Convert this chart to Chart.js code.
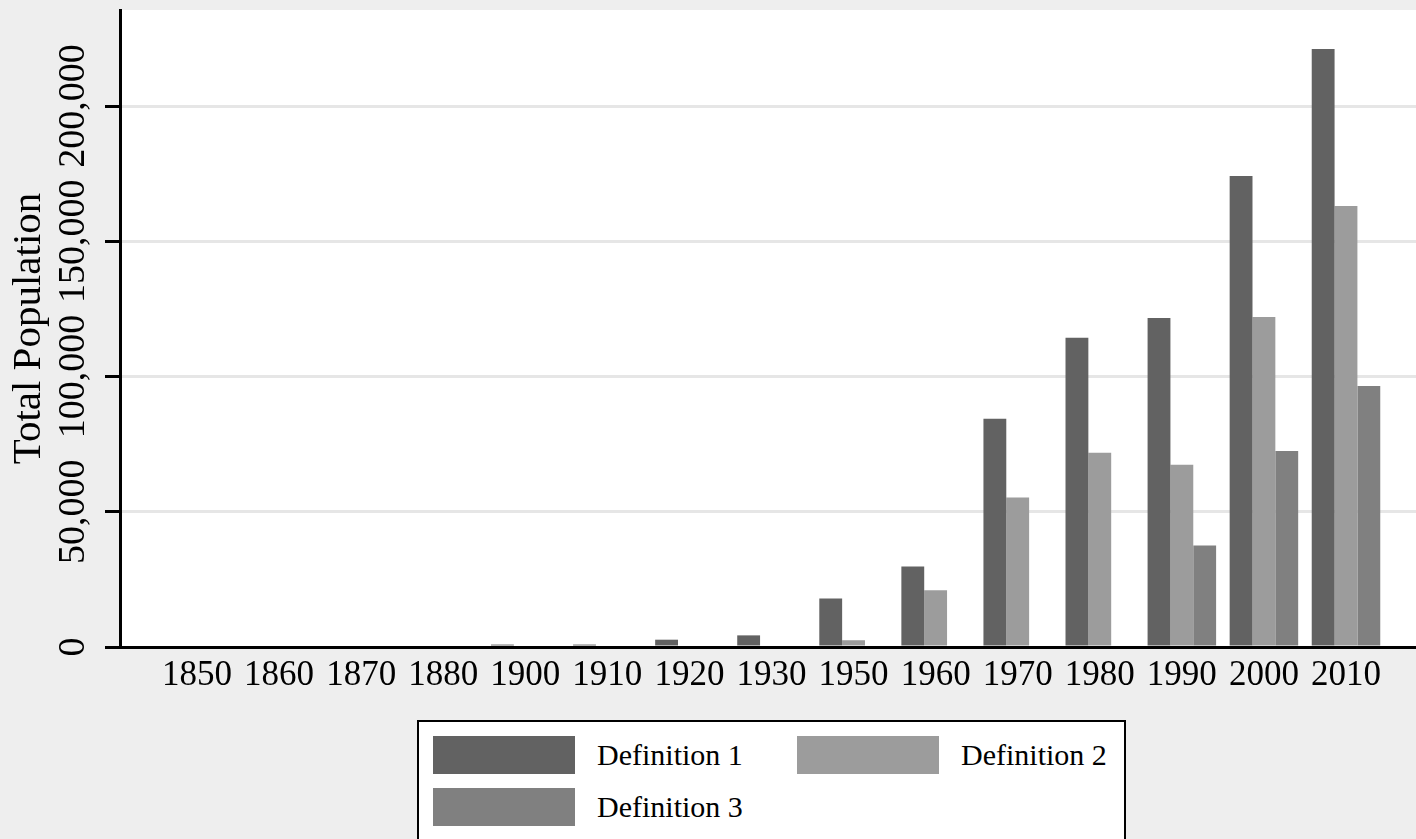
<!DOCTYPE html>
<html>
<head>
<meta charset="utf-8">
<script src="https://cdn.jsdelivr.net/npm/chart.js@4.4.1/dist/chart.umd.min.js"></script>
<style>
  body { margin: 0; background: #eeeeee; overflow: hidden; }
  #wrap { position: relative; width: 1416px; height: 839px; }
  #legendBox {
    position: absolute; left: 417px; top: 720px; width: 705px; height: 140px;
    border: 2px solid #000; background: #fff;
    font-family: "Liberation Serif", "Times New Roman", serif; font-size: 30px; color: #000;
  }
  .item { position: absolute; display: flex; align-items: center; height: 38px; }
  .swatch { width: 142px; height: 38px; margin-right: 22px; }
</style>
</head>
<body>
<div id="wrap">
  <canvas id="myChart" width="1416" height="839"></canvas>
  <div id="legendBox"></div>
</div>
<script>
/*------------------------------DATA--------------------------------------------*/

const years = ['1850', '1860', '1870', '1880', '1900', '1910', '1920', '1930',
               '1950', '1960', '1970', '1980', '1990', '2000', '2010'];

const definition1 = [0, 0, 0, 0, 900, 900, 2700, 4300, 17900, 29800, 84400, 114300, 121600, 174100, 221100];
const definition2 = [0, 0, 0, 0, 0, 0, 0, 0, 2500, 21000, 55300, 71800, 67400, 122000, 163000];
const definition3 = [0, 0, 0, 0, 0, 0, 0, 0, 0, 0, 0, 0, 37500, 72500, 96500];

const yTicks = [0, 50000, 100000, 150000, 200000];

const seriesNames = ['Definition 1', 'Definition 2', 'Definition 3'];
const seriesColors = ['#626262', '#9c9c9c', '#808080'];

/*------------------------------CHART--------------------------------------------*/

const serif = '"Liberation Serif", "Times New Roman", serif';

function toPoints(arr) {
    return arr.map((v, i) => ({ x: i, y: v }));
}

const data = {
    datasets: [definition1, definition2, definition3].map((arr, i) => ({
        label: seriesNames[i],
        data: toPoints(arr),
        backgroundColor: seriesColors[i],
        borderWidth: 0,
        categoryPercentage: 0.835,
        barPercentage: 1.0
    }))
};

// background + white plot area
const bgPlugin = {
    id: 'bg',
    beforeDraw(chart) {
        const ctx = chart.ctx;
        const a = chart.chartArea;
        ctx.save();
        ctx.fillStyle = '#eeeeee';
        ctx.fillRect(0, 0, chart.width, chart.height);
        ctx.fillStyle = '#ffffff';
        ctx.fillRect(a.left, a.top, a.right - a.left, a.bottom - a.top);
        ctx.restore();
    }
};

// rotated y tick labels, centred on their ticks
const yLabelPlugin = {
    id: 'yLabels',
    afterDraw(chart) {
        const ctx = chart.ctx;
        const scale = chart.scales.y;
        ctx.save();
        ctx.font = '38px ' + serif;
        ctx.fillStyle = '#000';
        ctx.textAlign = 'center';
        ctx.textBaseline = 'middle';
        scale.ticks.forEach(t => {
            ctx.save();
            ctx.translate(74, scale.getPixelForValue(t.value));
            ctx.rotate(-Math.PI / 2);
            ctx.fillText(t.value.toLocaleString('en-US'), 0, 0);
            ctx.restore();
        });
        ctx.restore();
    }
};

const config = {
    type: 'bar',
    data: data,
    plugins: [bgPlugin, yLabelPlugin],
    options: {
        responsive: false,
        animation: false,
        layout: { padding: { top: 10, right: 0, bottom: 0, left: 0 } },
        plugins: {
            legend: { display: false },
            tooltip: { enabled: false }
        },
        scales: {
            x: {
                type: 'linear',
                offset: false,
                min: -0.938,
                max: 14.853,
                afterBuildTicks: s => { s.ticks = years.map((_, i) => ({ value: i })); },
                afterFit: s => { s.height = 192; },
                grid: { display: false, drawTicks: false, offset: false },
                border: { display: true, color: '#000', width: 3 },
                ticks: {
                    autoSkip: false,
                    maxRotation: 0,
                    padding: 8,
                    color: '#000',
                    font: { family: serif, size: 35 },
                    callback: v => years[v]
                }
            },
            y: {
                min: 0,
                max: 235500,
                afterBuildTicks: s => { s.ticks = yTicks.map(v => ({ value: v })); },
                afterFit: s => { s.width = 120; },
                grid: {
                    color: '#e6e6e6',
                    lineWidth: 3,
                    tickColor: '#000',
                    tickLength: 15,
                    tickWidth: 3
                },
                border: { display: true, color: '#000', width: 3 },
                ticks: { display: false },
                title: {
                    display: true,
                    text: 'Total Population',
                    color: '#000',
                    font: { family: serif, size: 41 },
                    padding: { top: 5, bottom: 0 }
                }
            }
        }
    }
};

const myChart = new Chart(document.getElementById('myChart'), config);

/*------------------------------LEGEND--------------------------------------------*/

const legendBox = document.getElementById('legendBox');
const legendPos = [[14, 14], [378, 14], [14, 66]];
seriesNames.forEach((name, i) => {
    const item = document.createElement('div');
    item.className = 'item';
    item.style.left = legendPos[i][0] + 'px';
    item.style.top = legendPos[i][1] + 'px';
    const sw = document.createElement('div');
    sw.className = 'swatch';
    sw.style.background = seriesColors[i];
    const txt = document.createElement('span');
    txt.textContent = name;
    item.appendChild(sw);
    item.appendChild(txt);
    legendBox.appendChild(item);
});
</script>
</body>
</html>
